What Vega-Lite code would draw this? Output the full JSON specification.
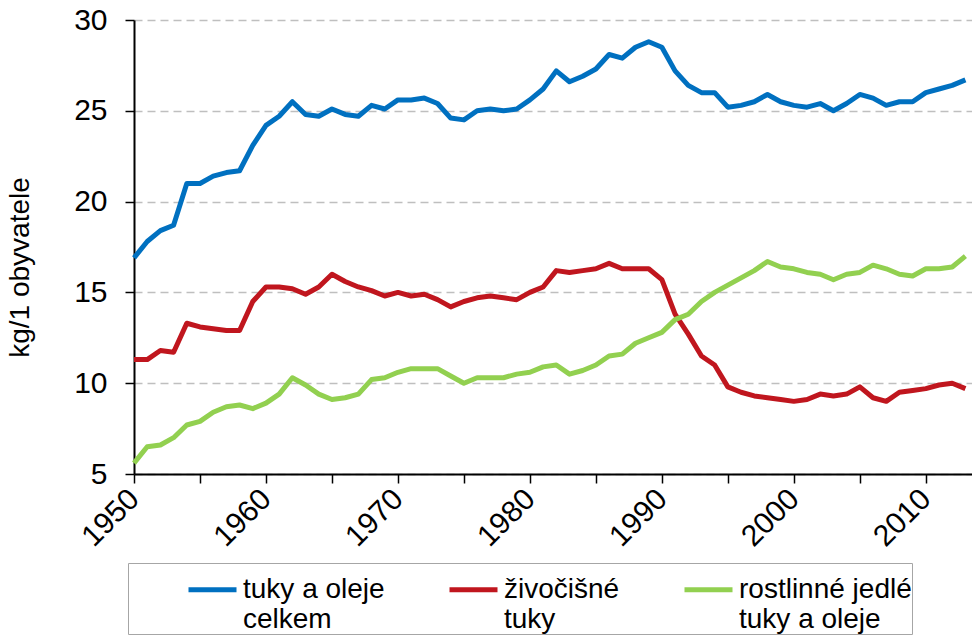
{
  "$schema": "https://vega.github.io/schema/vega-lite/v6.json",
  "width": 838,
  "height": 454,
  "autosize": "none",
  "padding": {"left": 134, "top": 20, "right": 0, "bottom": 164},
  "background": "white",
  "config": {
    "font": "Liberation Sans",
    "view": {"stroke": null}
  },
  "data": {
    "values": [
      {"year": 1950, "celkem": 16.9, "zivocisne": 11.3, "rostlinne": 5.6},
      {"year": 1951, "celkem": 17.8, "zivocisne": 11.3, "rostlinne": 6.5},
      {"year": 1952, "celkem": 18.4, "zivocisne": 11.8, "rostlinne": 6.6},
      {"year": 1953, "celkem": 18.7, "zivocisne": 11.7, "rostlinne": 7.0},
      {"year": 1954, "celkem": 21.0, "zivocisne": 13.3, "rostlinne": 7.7},
      {"year": 1955, "celkem": 21.0, "zivocisne": 13.1, "rostlinne": 7.9},
      {"year": 1956, "celkem": 21.4, "zivocisne": 13.0, "rostlinne": 8.4},
      {"year": 1957, "celkem": 21.6, "zivocisne": 12.9, "rostlinne": 8.7},
      {"year": 1958, "celkem": 21.7, "zivocisne": 12.9, "rostlinne": 8.8},
      {"year": 1959, "celkem": 23.1, "zivocisne": 14.5, "rostlinne": 8.6},
      {"year": 1960, "celkem": 24.2, "zivocisne": 15.3, "rostlinne": 8.9},
      {"year": 1961, "celkem": 24.7, "zivocisne": 15.3, "rostlinne": 9.4},
      {"year": 1962, "celkem": 25.5, "zivocisne": 15.2, "rostlinne": 10.3},
      {"year": 1963, "celkem": 24.8, "zivocisne": 14.9, "rostlinne": 9.9},
      {"year": 1964, "celkem": 24.7, "zivocisne": 15.3, "rostlinne": 9.4},
      {"year": 1965, "celkem": 25.1, "zivocisne": 16.0, "rostlinne": 9.1},
      {"year": 1966, "celkem": 24.8, "zivocisne": 15.6, "rostlinne": 9.2},
      {"year": 1967, "celkem": 24.7, "zivocisne": 15.3, "rostlinne": 9.4},
      {"year": 1968, "celkem": 25.3, "zivocisne": 15.1, "rostlinne": 10.2},
      {"year": 1969, "celkem": 25.1, "zivocisne": 14.8, "rostlinne": 10.3},
      {"year": 1970, "celkem": 25.6, "zivocisne": 15.0, "rostlinne": 10.6},
      {"year": 1971, "celkem": 25.6, "zivocisne": 14.8, "rostlinne": 10.8},
      {"year": 1972, "celkem": 25.7, "zivocisne": 14.9, "rostlinne": 10.8},
      {"year": 1973, "celkem": 25.4, "zivocisne": 14.6, "rostlinne": 10.8},
      {"year": 1974, "celkem": 24.6, "zivocisne": 14.2, "rostlinne": 10.4},
      {"year": 1975, "celkem": 24.5, "zivocisne": 14.5, "rostlinne": 10.0},
      {"year": 1976, "celkem": 25.0, "zivocisne": 14.7, "rostlinne": 10.3},
      {"year": 1977, "celkem": 25.1, "zivocisne": 14.8, "rostlinne": 10.3},
      {"year": 1978, "celkem": 25.0, "zivocisne": 14.7, "rostlinne": 10.3},
      {"year": 1979, "celkem": 25.1, "zivocisne": 14.6, "rostlinne": 10.5},
      {"year": 1980, "celkem": 25.6, "zivocisne": 15.0, "rostlinne": 10.6},
      {"year": 1981, "celkem": 26.2, "zivocisne": 15.3, "rostlinne": 10.9},
      {"year": 1982, "celkem": 27.2, "zivocisne": 16.2, "rostlinne": 11.0},
      {"year": 1983, "celkem": 26.6, "zivocisne": 16.1, "rostlinne": 10.5},
      {"year": 1984, "celkem": 26.9, "zivocisne": 16.2, "rostlinne": 10.7},
      {"year": 1985, "celkem": 27.3, "zivocisne": 16.3, "rostlinne": 11.0},
      {"year": 1986, "celkem": 28.1, "zivocisne": 16.6, "rostlinne": 11.5},
      {"year": 1987, "celkem": 27.9, "zivocisne": 16.3, "rostlinne": 11.6},
      {"year": 1988, "celkem": 28.5, "zivocisne": 16.3, "rostlinne": 12.2},
      {"year": 1989, "celkem": 28.8, "zivocisne": 16.3, "rostlinne": 12.5},
      {"year": 1990, "celkem": 28.5, "zivocisne": 15.7, "rostlinne": 12.8},
      {"year": 1991, "celkem": 27.2, "zivocisne": 13.8, "rostlinne": 13.5},
      {"year": 1992, "celkem": 26.4, "zivocisne": 12.7, "rostlinne": 13.8},
      {"year": 1993, "celkem": 26.0, "zivocisne": 11.5, "rostlinne": 14.5},
      {"year": 1994, "celkem": 26.0, "zivocisne": 11.0, "rostlinne": 15.0},
      {"year": 1995, "celkem": 25.2, "zivocisne": 9.8, "rostlinne": 15.4},
      {"year": 1996, "celkem": 25.3, "zivocisne": 9.5, "rostlinne": 15.8},
      {"year": 1997, "celkem": 25.5, "zivocisne": 9.3, "rostlinne": 16.2},
      {"year": 1998, "celkem": 25.9, "zivocisne": 9.2, "rostlinne": 16.7},
      {"year": 1999, "celkem": 25.5, "zivocisne": 9.1, "rostlinne": 16.4},
      {"year": 2000, "celkem": 25.3, "zivocisne": 9.0, "rostlinne": 16.3},
      {"year": 2001, "celkem": 25.2, "zivocisne": 9.1, "rostlinne": 16.1},
      {"year": 2002, "celkem": 25.4, "zivocisne": 9.4, "rostlinne": 16.0},
      {"year": 2003, "celkem": 25.0, "zivocisne": 9.3, "rostlinne": 15.7},
      {"year": 2004, "celkem": 25.4, "zivocisne": 9.4, "rostlinne": 16.0},
      {"year": 2005, "celkem": 25.9, "zivocisne": 9.8, "rostlinne": 16.1},
      {"year": 2006, "celkem": 25.7, "zivocisne": 9.2, "rostlinne": 16.5},
      {"year": 2007, "celkem": 25.3, "zivocisne": 9.0, "rostlinne": 16.3},
      {"year": 2008, "celkem": 25.5, "zivocisne": 9.5, "rostlinne": 16.0},
      {"year": 2009, "celkem": 25.5, "zivocisne": 9.6, "rostlinne": 15.9},
      {"year": 2010, "celkem": 26.0, "zivocisne": 9.7, "rostlinne": 16.3},
      {"year": 2011, "celkem": 26.2, "zivocisne": 9.9, "rostlinne": 16.3},
      {"year": 2012, "celkem": 26.4, "zivocisne": 10.0, "rostlinne": 16.4},
      {"year": 2013, "celkem": 26.7, "zivocisne": 9.7, "rostlinne": 17.0}
    ]
  },
  "transform": [
    {"fold": ["celkem", "zivocisne", "rostlinne"], "as": ["serie", "hodnota"]}
  ],
  "mark": {"type": "line", "strokeWidth": 5, "strokeJoin": "round", "clip": false},
  "encoding": {
    "x": {
      "field": "year",
      "type": "quantitative",
      "scale": {"domain": [1950, 2013.5], "nice": false, "zero": false},
      "axis": {
        "title": null,
        "values": [1950, 1955, 1960, 1965, 1970, 1975, 1980, 1985, 1990, 1995, 2000, 2005, 2010],
        "format": "d",
        "labelExpr": "datum.value % 10 == 0 ? datum.label : ''",
        "labelAngle": 315,
        "labelAlign": "right",
        "labelBaseline": "middle",
        "labelFontSize": 30,
        "labelColor": "black",
        "labelPadding": 11,
        "labelOverlap": false,
        "labelFlush": false,
        "grid": false,
        "domainColor": "black",
        "domainWidth": 2,
        "tickColor": "black",
        "tickWidth": 1.5,
        "tickSize": 9
      }
    },
    "y": {
      "field": "hodnota",
      "type": "quantitative",
      "scale": {"domain": [5, 30], "nice": false, "zero": false},
      "axis": {
        "title": "kg/1 obyvatele",
        "titleFontSize": 28,
        "titleFontWeight": "normal",
        "titleColor": "black",
        "titleAngle": 270,
        "titleAlign": "center",
        "titleBaseline": "alphabetic",
        "titleX": -106,
        "titleY": 247,
        "values": [5, 10, 15, 20, 25, 30],
        "labelFontSize": 30,
        "labelColor": "black",
        "labelPadding": 18,
        "grid": true,
        "gridColor": "#bfbfbf",
        "gridDash": [8, 5],
        "gridWidth": 1.5,
        "domainColor": "black",
        "domainWidth": 2,
        "tickColor": "black",
        "tickWidth": 1.5,
        "tickSize": 9
      }
    },
    "color": {
      "field": "serie",
      "type": "nominal",
      "scale": {
        "domain": ["celkem", "zivocisne", "rostlinne"],
        "range": ["#0070C0", "#C0161E", "#92D050"]
      },
      "legend": {
        "title": null,
        "orient": "none",
        "legendX": -6,
        "legendY": 543,
        "direction": "horizontal",
        "columns": 3,
        "columnPadding": 4,
        "padding": 0,
        "symbolOffset": 58,
        "strokeColor": "#a6a6a6",
        "fillColor": "white",
        "symbolType": "stroke",
        "symbolSize": 2304,
        "symbolStrokeWidth": 5,
        "labelFontSize": 28,
        "labelColor": "black",
        "labelOffset": 4,
        "labelLimit": 300,
        "labelExpr": "datum.label == 'celkem' ? ['tuky a oleje', 'celkem'] : datum.label == 'zivocisne' ? ['živočišné', 'tuky'] : ['rostlinné jedlé', 'tuky a oleje']"
      }
    }
  }
}
